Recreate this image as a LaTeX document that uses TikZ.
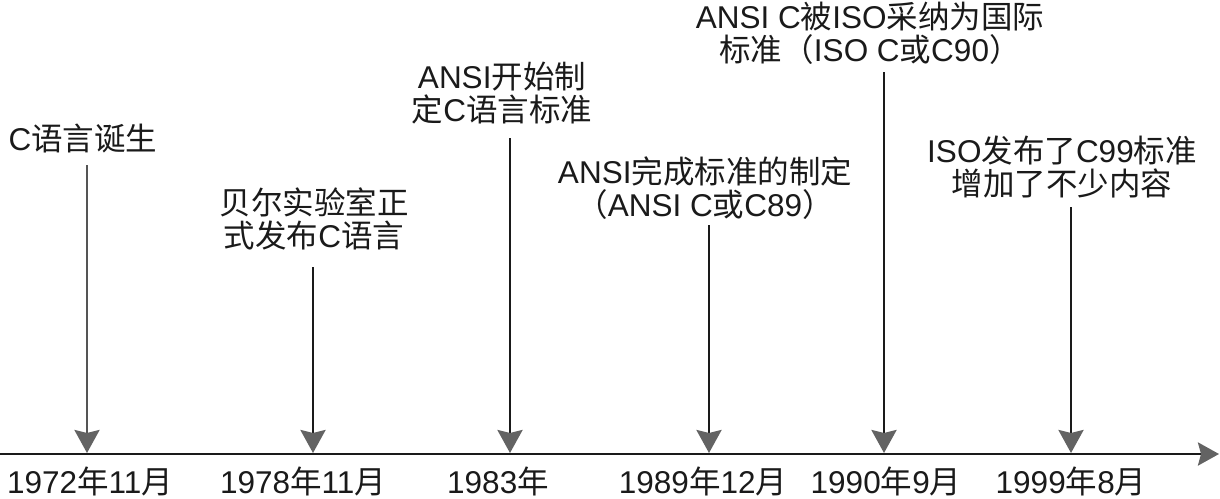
\documentclass[tikz,border=0pt]{standalone}
\usepackage{fontspec}
\setmainfont{Liberation Sans}
\newfontfamily\zhfont{Noto Sans CJK SC}
\usetikzlibrary{arrows.meta}
\newcommand\zh[1]{{\zhfont #1}}
\definecolor{ink}{HTML}{1A1A1A}
\definecolor{shaftgray}{HTML}{555555}
\definecolor{headgray}{HTML}{636363}
\begin{document}
\begin{tikzpicture}[x=1pt,y=-1pt,
  lbl/.style={font=\fontsize{31.5}{33}\selectfont, text=ink, align=center, inner sep=0pt},
  evarrow/.style={draw=ink, line width=2.8pt, -{Stealth[length=23pt,width=25pt,inset=3pt,color=headgray]}},
  axisline/.style={draw=ink, line width=2.8pt, -{Stealth[length=21pt,width=23pt,inset=3pt,color=headgray]}}]
\fill[white] (0,0) rectangle (1220,498);
\useasboundingbox (0,0) rectangle (1220,498);

% event labels
\node[lbl] (e1) at (83,139) {C\zh{语言诞生}};
\node[lbl] (e2) at (314,218.5) {\zh{贝尔实验室正}\\\zh{式发布}C\zh{语言}};
\node[lbl] (e3) at (502,93) {ANSI\zh{开始制}\\\zh{定}C\zh{语言标准}};
\node[lbl] (e4) at (705,188) {ANSI\zh{完成标准的制定}\\\zh{（}ANSI C\zh{或}C89\zh{）}};
\node[lbl] (e5) at (870,33.5) {ANSI C\zh{被}ISO\zh{采纳为国际}\\\zh{标准（}ISO C\zh{或}C90\zh{）}};
\node[lbl] (e6) at (1062,166.5) {ISO\zh{发布了}C99\zh{标准}\\\zh{增加了不少内容}};

% date labels
\node[lbl] (d1) at (90,481) {1972\zh{年}11\zh{月}};
\node[lbl] (d2) at (303,481) {1978\zh{年}11\zh{月}};
\node[lbl] (d3) at (498,481) {1983\zh{年}};
\node[lbl] (d4) at (703,481) {1989\zh{年}12\zh{月}};
\node[lbl] (d5) at (886,481) {1990\zh{年}9\zh{月}};
\node[lbl] (d6) at (1071,481) {1999\zh{年}8\zh{月}};

% arrow endpoints
\coordinate (t1) at (87,165);   \coordinate (b1) at (87,453);
\coordinate (t2) at (313,267);  \coordinate (b2) at (313,453);
\coordinate (t3) at (510,138);  \coordinate (b3) at (510,453);
\coordinate (t4) at (709,225);  \coordinate (b4) at (709,453);
\coordinate (t5) at (884,72);   \coordinate (b5) at (884,453);
\coordinate (t6) at (1071,207); \coordinate (b6) at (1071,453);
\coordinate (ax0) at (0,454);   \coordinate (ax1) at (1219,454);

% time axis
\draw[axisline] (ax0) -- (ax1);

% event arrows
\draw[evarrow, draw=shaftgray] (t1) -- (b1);
\draw[evarrow] (t2) -- (b2);
\draw[evarrow] (t3) -- (b3);
\draw[evarrow] (t4) -- (b4);
\draw[evarrow] (t5) -- (b5);
\draw[evarrow] (t6) -- (b6);
\end{tikzpicture}
\end{document}
